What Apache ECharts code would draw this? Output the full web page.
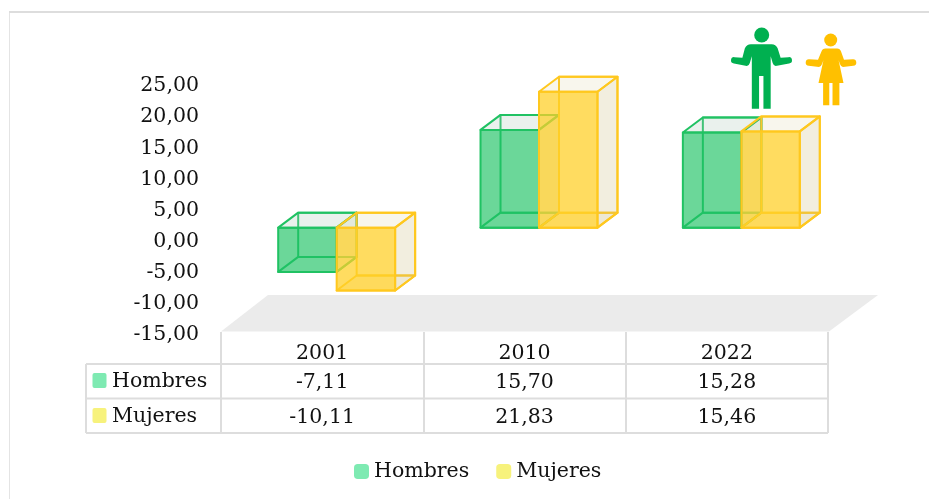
<!DOCTYPE html>
<html><head><meta charset="utf-8">
<style>html,body{margin:0;padding:0;background:#fff}#c{width:929px;height:499px}</style>
<script src="https://cdn.jsdelivr.net/npm/echarts@6/dist/echarts.min.js"></script>
</head><body><div id="c"></div>
<script>
const categories = ['2001','2010','2022'];
const hombres = [-7.11,15.70,15.28];
const mujeres = [-10.11,21.83,15.46];
const seriesNames = ['Hombres','Mujeres'];
const yTicks = {min:-15,max:25,interval:5};

const FONT = '"DejaVu Serif"', FS = 20.5, TXT = '#111111';
const fmt = v => v.toFixed(2).replace('.',',');
const chart = echarts.init(document.getElementById('c'),null,{renderer:'canvas'});

const styles = {
  Hombres:{stroke:'#20c263',front:'rgba(30,195,100,0.66)',side:'rgba(170,200,185,0.28)',top:'rgba(170,200,185,0.25)',bottom:'rgba(255,255,255,0)',swatch:'#7eeab2',shift:-1},
  Mujeres:{stroke:'#ffc81e',front:'rgba(255,208,40,0.74)',side:'rgba(205,190,130,0.26)',top:'rgba(205,190,130,0.14)',bottom:'rgba(205,190,130,0.12)',swatch:'#f7f27c',shift:0}
};
function boxItem(name){
  const st = styles[name];
  return function(params,api){
    const c = api.value(0), v = api.value(1);
    const DY = -11, DX = 14.5, dep = 20, rise = 15;
    const w = api.size([1,0])[0]*0.289;
    const zero = api.coord([c,0]), val = api.coord([c,v]);
    const x0 = zero[0]+DX+st.shift*w, x1 = x0+w;
    const yt = Math.min(zero[1],val[1])+DY, yb = Math.max(zero[1],val[1])+DY;
    const poly = (pts,fill)=>({type:'polygon',shape:{points:pts},style:{fill:fill,stroke:st.stroke,lineWidth:2,lineJoin:'round',opacity:1}});
    const bx0=x0+dep,bx1=x1+dep,byt=yt-rise,byb=yb-rise;
    return {type:'group',children:[
      poly([[bx0,byt],[bx1,byt],[bx1,byb],[bx0,byb]],'rgba(255,255,255,0)'),
      poly([[x0,yb],[x1,yb],[bx1,byb],[bx0,byb]],st.bottom),
      poly([[x0,yt],[x1,yt],[bx1,byt],[bx0,byt]],st.top),
      poly([[x1,yt],[bx1,byt],[bx1,byb],[x1,yb]],st.side),
      poly([[x0,yt],[x1,yt],[x1,yb],[x0,yb]],st.front)
    ]};
  };
}
function tableItem(rowY){
  return function(params,api){
    const c = api.value(0), v = api.value(1);
    const x = api.coord([c,0])[0];
    return {type:'text',style:{x:x,y:rowY,text:fmt(v),fill:TXT,font:FS+'px '+FONT,textAlign:'center',textVerticalAlign:'middle'}};
  };
}
function figures(){
  return {type:'group',children:[
    {type:'circle',shape:{cx:761.7,cy:35,r:7.5},style:{fill:'#00b050'}},
    {type:'path',shape:{pathData:'M751,44 L772,44 Q776,44 778,48 L781,57.5 L789,57 A3.2,3.2 0 0 1 789.5,63.4 L776,66 Q774,66 773,63 L771,56 L771,109 L763.7,109 L763.7,76 L759.3,76 L759.3,109 L752,109 L752,56 L750,63 Q749,66 747,66 L734,63.4 A3.2,3.2 0 0 1 734.5,57 L742.5,57.5 L745,48 Q747,44 751,44 Z',x:731,y:44,width:61,height:65,layout:'center'},style:{fill:'#00b050'}},
    {type:'circle',shape:{cx:830.7,cy:40,r:6.5},style:{fill:'#ffc000'}},
    {type:'path',shape:{pathData:'M825,48 L837,48 Q840,48 841,51 L844,59.5 L853,59 A3.3,3.3 0 0 1 853.5,65.6 L843,66.8 Q841,66.8 840,64 L838.5,60 L843.5,83 L839.3,83 L839.3,105.7 L832.3,105.7 L832.3,83 L829,83 L829,105.7 L822.7,105.7 L822.7,83 L818,83 L823,60 L821.5,64 Q820.5,66.8 818.5,66.8 L808,65.6 A3.3,3.3 0 0 1 808.5,59 L817.5,59.5 L821,51 Q822,48 825,48 Z',x:805.7,y:48,width:50.6,height:57.7,layout:'center'},style:{fill:'#ffc000'}}
  ]};
}
const pairs = a => a.map((v,i)=>[i,v]);
const L = '#dddddd';
const hline = (x1,x2,y)=>({type:'line',shape:{x1,y1:y,x2,y2:y},style:{stroke:L,lineWidth:2},z:1});
const vline = (x,y1,y2,col)=>({type:'line',shape:{x1:x,y1,x2:x,y2},style:{stroke:col||L,lineWidth:col?1:2},z:1});
const rowYs = [383,418];
const graphic = [
  vline(9.5,12,499,'#e4e4e4'), hline(9,929,12),
  {type:'polygon',shape:{points:[[221,331.5],[829,331.5],[878,295],[268,295]]},style:{fill:'#ebebeb'},z:0},
  hline(86,828,364),hline(86,828,398.5),hline(86,828,433),vline(86,364,433),
  {type:'rect',shape:{x:92.5,y:373,width:14,height:15,r:2},style:{fill:styles.Hombres.swatch},z:2},
  {type:'rect',shape:{x:92.5,y:408,width:14,height:15,r:2},style:{fill:styles.Mujeres.swatch},z:2},
  ...seriesNames.map((n,i)=>({type:'text',style:{x:112,y:rowYs[i]-1.5,text:n,fill:TXT,font:FS+'px '+FONT,textVerticalAlign:'middle'},z:2}))
];
chart.setOption({
  animation:false,
  backgroundColor:'#fff',
  textStyle:{fontFamily:FONT},
  grid:{left:221,right:101,top:83,bottom:167,containLabel:false},
  xAxis:{type:'category',data:categories,position:'bottom',
    axisLine:{show:false,onZero:false},
    axisTick:{show:true,length:101,alignWithLabel:false,lineStyle:{color:L,width:2}},
    axisLabel:{fontFamily:FONT,fontSize:FS,color:TXT,margin:11}},
  yAxis:{type:'value',min:yTicks.min,max:yTicks.max,interval:yTicks.interval,
    splitLine:{show:false},axisLine:{show:false},axisTick:{show:false},
    axisLabel:{margin:22,formatter:v=>'{t|'+fmt(v)+'}',
      rich:{t:{fontFamily:FONT,fontSize:FS,color:TXT,padding:[6,0,0,0]}}}},
  legend:{left:349,top:456,itemGap:27,itemWidth:15,itemHeight:15,icon:'roundRect',
    textStyle:{fontFamily:FONT,fontSize:FS,color:TXT},
    data:[{name:'Hombres',itemStyle:{color:styles.Hombres.swatch}},{name:'Mujeres',itemStyle:{color:styles.Mujeres.swatch}}]},
  graphic:{elements:graphic},
  series:[
    {name:'Hombres',type:'custom',data:pairs(hombres),encode:{x:0,y:1},renderItem:boxItem('Hombres'),itemStyle:{color:styles.Hombres.swatch},z:3,clip:false},
    {name:'Mujeres',type:'custom',data:pairs(mujeres),encode:{x:0,y:1},renderItem:boxItem('Mujeres'),itemStyle:{color:styles.Mujeres.swatch},z:4,clip:false},
    {name:'tablaH',type:'custom',data:pairs(hombres),encode:{x:0,y:1},renderItem:tableItem(rowYs[0]),z:6,clip:false,silent:true},
    {name:'tablaM',type:'custom',data:pairs(mujeres),encode:{x:0,y:1},renderItem:tableItem(rowYs[1]),z:6,clip:false,silent:true},
    {name:'figuras',type:'custom',coordinateSystem:'none',data:[[0]],renderItem:figures,z:6,silent:true}
  ]
});
</script></body></html>
